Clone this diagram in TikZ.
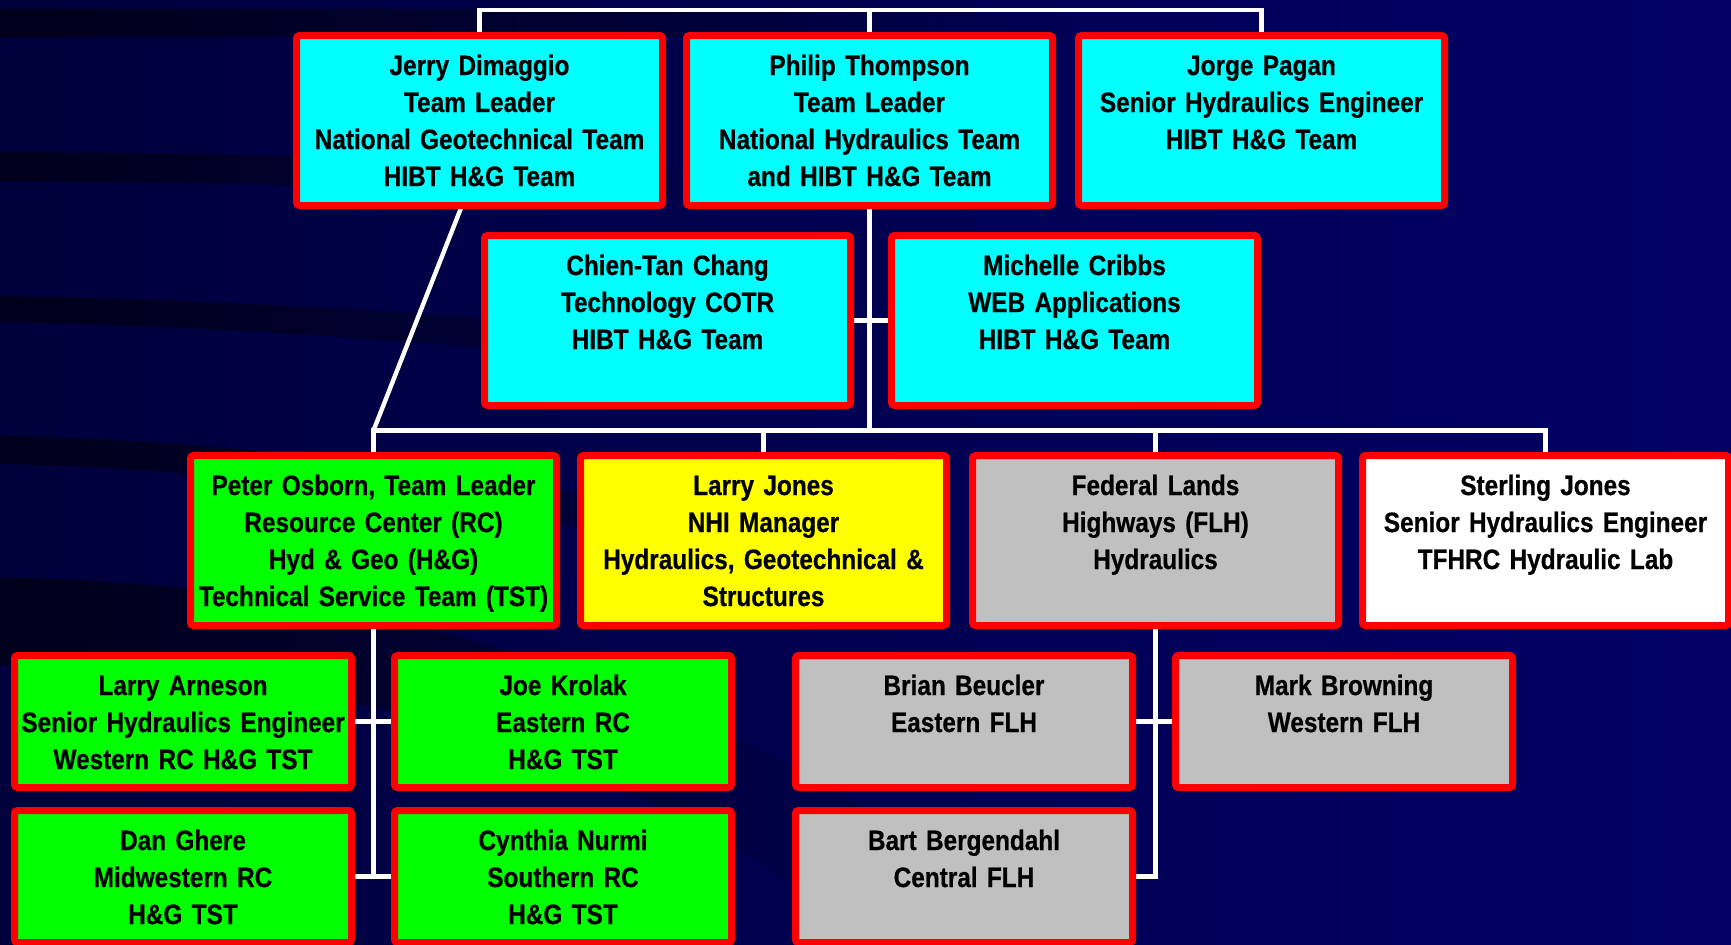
\documentclass[tikz,border=0pt]{standalone}
\usepackage{fontspec}
\usepackage{tikz}
\usetikzlibrary{fadings}
\newfontfamily\orgfont{Liberation Sans}[FakeStretch=0.87, FakeBold=0.6]
\definecolor{bgleft}{RGB}{0,0,60}
\definecolor{bgright}{RGB}{0,0,102}
\definecolor{bgband}{RGB}{0,0,28}
\definecolor{boxred}{RGB}{255,0,0}
\definecolor{boxcyan}{RGB}{0,255,255}
\definecolor{boxgreen}{RGB}{0,255,0}
\definecolor{boxyellow}{RGB}{255,255,0}
\definecolor{boxgrey}{RGB}{192,192,192}
\tikzfading[name=bandfade, left color=transparent!0, right color=transparent!100]
\pgfdeclarelayer{bg}
\pgfdeclarelayer{links}
\pgfsetlayers{bg,links,main}

\begin{document}
\begin{tikzpicture}[x=0.5pt, y=-0.5pt]
	\tikzset{unit/.style = {draw=boxred, line width=3.5pt, rounded corners=1.5pt, anchor=north west, inner sep=0pt, outer sep=0pt, align=center, text height=19.75pt, font=\orgfont\bfseries\fontsize{14}{18.5}\selectfont}}
	\tikzset{wide/.style = {unit, text width=183pt, text depth=65.25pt}}
	\tikzset{narrow/.style = {unit, text width=168.5pt, text depth=46.25pt}}
	\tikzset{link/.style = {draw=white, line width=2.2pt}}
	\tikzset{band/.style = {fill=bgband, path fading=bandfade}}
	\useasboundingbox (0,0) rectangle (1731,944);
	% background
	\begin{pgfonlayer}{bg}
		\shade[left color=bgleft, right color=bgright] (0,0) rectangle (1731,944);
		\fill[band] (0,9) .. controls (400,8) and (800,10) .. (1100,14) -- (1100,40) .. controls (800,36) and (400,36) .. (0,37) -- cycle;
		\fill[band] (0,152) .. controls (250,153) and (500,160) .. (750,172) -- (750,204) .. controls (500,190) and (250,182) .. (0,181) -- cycle;
		\fill[band] (0,296) .. controls (250,300) and (550,318) .. (850,352) -- (850,384) .. controls (550,350) and (250,326) .. (0,322) -- cycle;
		\fill[band] (0,436) .. controls (250,440) and (600,480) .. (950,580) -- (950,615) .. controls (600,515) and (250,468) .. (0,464) -- cycle;
		\fill[band] (0,577) .. controls (350,585) and (650,660) .. (950,860) -- (870,944) .. controls (650,760) and (350,670) .. (0,665) -- cycle;
	\end{pgfonlayer}
	% top row
	\node[wide, fill=boxcyan] (jerry) at (296.5,35.5) {Jerry Dimaggio\\Team Leader\\National Geotechnical Team\\HIBT H\&G Team};
	\node[wide, fill=boxcyan] (philip) at (686.5,35.5) {Philip Thompson\\Team Leader\\National Hydraulics Team\\and HIBT H\&G Team};
	\node[wide, fill=boxcyan] (jorge) at (1078.5,35.5) {Jorge Pagan\\Senior Hydraulics Engineer\\HIBT H\&G Team};
	\node[wide, fill=boxcyan] (chien) at (484.5,235.5) {Chien-Tan Chang\\Technology COTR\\HIBT H\&G Team};
	\node[wide, fill=boxcyan] (michelle) at (891.5,235.5) {Michelle Cribbs\\WEB Applications\\HIBT H\&G Team};
	% middle row
	\node[wide, fill=boxgreen] (peter) at (190.5,455.5) {Peter Osborn, Team Leader\\Resource Center (RC)\\Hyd \& Geo (H\&G)\\Technical Service Team (TST)};
	\node[wide, fill=boxyellow] (larryj) at (580.5,455.5) {Larry Jones\\NHI Manager\\Hydraulics, Geotechnical \&\\Structures};
	\node[wide, fill=boxgrey] (flh) at (972.5,455.5) {Federal Lands\\Highways (FLH)\\Hydraulics};
	\node[wide, fill=white] (sterling) at (1362.5,455.5) {Sterling Jones\\Senior Hydraulics Engineer\\TFHRC Hydraulic Lab};
	% bottom rows
	\node[narrow, fill=boxgreen] (arneson) at (14.5,655.5) {Larry Arneson\\Senior Hydraulics Engineer\\Western RC H\&G TST};
	\node[narrow, fill=boxgreen] (krolak) at (394.5,655.5) {Joe Krolak\\Eastern RC\\H\&G TST};
	\node[narrow, fill=boxgreen] (ghere) at (14.5,810.5) {Dan Ghere\\Midwestern RC\\H\&G TST};
	\node[narrow, fill=boxgreen] (nurmi) at (394.5,810.5) {Cynthia Nurmi\\Southern RC\\H\&G TST};
	\node[narrow, fill=boxgrey] (beucler) at (795.5,655.5) {Brian Beucler\\Eastern FLH};
	\node[narrow, fill=boxgrey] (browning) at (1175.5,655.5) {Mark Browning\\Western FLH};
	\node[narrow, fill=boxgrey] (bergendahl) at (795.5,810.5) {Bart Bergendahl\\Central FLH};
	% links
	\begin{pgfonlayer}{links}
		\coordinate (topbus) at (869.5,10);
		\coordinate (lowbus) at (869.5,430.5);
		\draw[link] (jerry.north) |- (topbus) -| (jorge.north);
		\draw[link] (philip.north) -- (topbus);
		\draw[link] (philip.south) -- (lowbus);
		\draw[link] (chien.east) -- (michelle.west);
		\draw[link] ([xshift=-8.75pt]jerry.south) -- (peter.north |- lowbus);
		\draw[link] (peter.north) |- (lowbus) -| (sterling.north);
		\draw[link] (larryj.north) -- (larryj.north |- lowbus);
		\draw[link] (flh.north) -- (flh.north |- lowbus);
		\draw[link] (peter.south) -- (peter.south |- nurmi.west);
		\draw[link] (arneson.east) -- (krolak.west);
		\draw[link] (ghere.east) -- (nurmi.west);
		\draw[link] (flh.south) |- (bergendahl.east);
		\draw[link] (beucler.east) -- (browning.west);
	\end{pgfonlayer}
\end{tikzpicture}
\end{document}
